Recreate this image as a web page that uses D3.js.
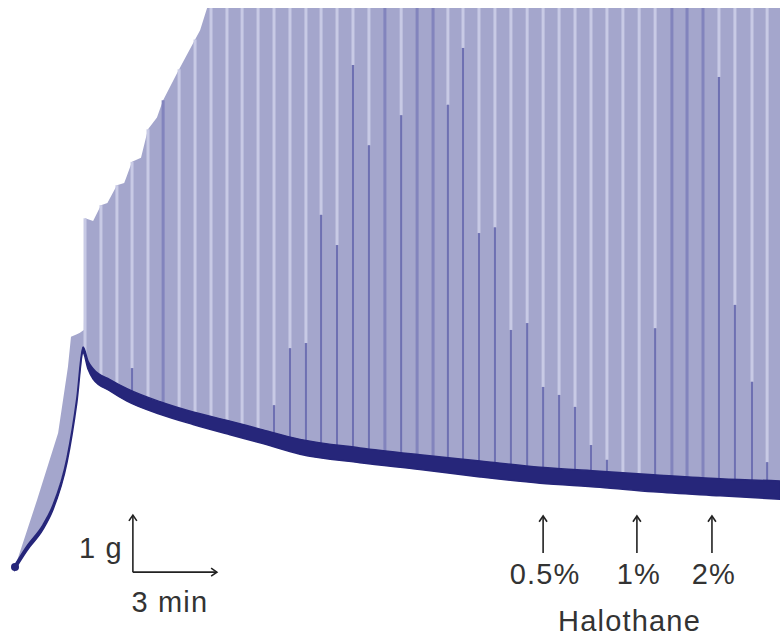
<!DOCTYPE html>
<html>
<head>
<meta charset="utf-8">
<script src="https://cdn.jsdelivr.net/npm/d3@7/dist/d3.min.js"></script>
<style>
    body { margin: 0; background: #fff; }
    svg { display: block; }
    text { font-family: "Liberation Sans", Arial, sans-serif; fill: #333; }
</style>
</head>
<body>
<div id="container"></div>
<script>
    // Data: baseline tension trace (time in min, force in g)
    let traceTime  = [0, 0.43, 1.0, 1.36, 1.86, 2.21, 2.43, 2.61, 2.79, 3.39, 4.0, 5.18, 6.36, 7.68, 8.75, 10.18, 12.32, 14.46, 16.61, 18.75, 20.89, 22.79, 25.18, 27.32];
    let traceForce = [0, 0.33, 0.70, 1.05, 1.88, 2.93, 3.81, 3.54, 3.39, 3.19, 3.02, 2.79, 2.61, 2.44, 2.30, 2.11, 1.96, 1.84, 1.72, 1.61, 1.54, 1.47, 1.40, 1.35];
    // noise half-width of the trace (g)
    let traceSpread = [0.04, 0.04, 0.04, 0.04, 0.04, 0.04, 0.05, 0.07, 0.09, 0.1, 0.11, 0.11, 0.11, 0.12, 0.12, 0.13, 0.13, 0.13, 0.14, 0.14, 0.14, 0.15, 0.15, 0.16];

    // Data: upper envelope of the twitch responses
    let envTime  = [0, 0.79, 1.54, 1.89, 2.0, 2.32, 2.46, 2.50, 2.79, 3.07, 3.3, 3.64, 3.9, 4.18, 4.5, 4.75, 5.07, 5.29, 5.79, 6.61, 6.86, 27.32];
    let envForce = [0, 1.18, 2.35, 3.51, 4.04, 4.11, 4.16, 6.12, 6.07, 6.35, 6.39, 6.70, 6.74, 7.11, 7.18, 7.68, 7.89, 8.19, 8.67, 9.42, 9.81, 9.81];

    // Data: single twitches, time (min) and force where the pale part ends (g)
    // 0 = pale to the baseline, 10 = dark over the full height
    let twitchTime = [2.50, 3.07, 3.64, 4.18, 4.75, 5.29, 5.86, 6.43, 7.00, 7.57, 8.11, 8.68,
        9.25, 9.82, 10.39, 10.93, 11.50, 12.07, 12.64, 13.21, 13.79, 14.36, 14.93, 15.46,
        16.00, 16.57, 17.14, 17.71, 18.29, 18.86, 19.43, 20.00, 20.57, 21.14, 21.71, 22.29,
        22.86, 23.46, 24.00, 24.57, 25.14, 25.71, 26.32, 26.86];
    let twitchBreak = [0, 0, 0, 3.49, 0, 10, 0, 0, 0, 0, 0, 0,
        2.84, 3.84, 3.93, 6.18, 5.65, 8.81, 7.40, 10, 7.93, 10, 10, 8.11,
        9.11, 5.86, 5.96, 4.16, 4.28, 3.16, 3.02, 2.81, 2.14, 1.88, 0, 0,
        4.19, 10, 10, 10, 8.60, 4.60, 3.25, 1.84];

    // Data: halothane additions
    let doseTime = [18.86, 22.21, 24.89];
    let doseLabel = ["0.5%", "1%", "2%"];

    // Scale bar
    let barOrigin = { t: 4.21, g: -0.09 };
    let barTime = 3, barForce = 1;

    // Set up SVG
    let width = 780, height = 639;
    let svg = d3.select("#container")
        .append("svg")
        .attr("width", width)
        .attr("height", height);

    let x = d3.scaleLinear().domain([0, 27.32]).range([15, 780]);
    let y = d3.scaleLinear().domain([0, 9.81]).range([567, 8]);

    let lerp = (ts, vs) => t => {
        let i = d3.bisectRight(ts, t);
        if (i <= 0) return vs[0];
        if (i >= ts.length) return vs[vs.length - 1];
        let k = (t - ts[i - 1]) / (ts[i] - ts[i - 1]);
        return vs[i - 1] + k * (vs[i] - vs[i - 1]);
    };
    let base = lerp(traceTime, traceForce);
    let env = lerp(envTime, envForce);

    svg.append("clipPath").attr("id", "clip")
        .append("rect").attr("x", 0).attr("y", y(9.81)).attr("width", width).attr("height", height);

    let g = svg.append("g").attr("clip-path", "url(#clip)");

    // Twitch fill
    let fillTimes = Array.from(new Set(envTime.concat(traceTime))).sort((a, b) => a - b);
    g.append("path")
        .datum(fillTimes)
        .attr("fill", "#a4a6cc")
        .attr("d", d3.area()
            .x(t => x(t))
            .y0(t => y(base(t)))
            .y1(t => y(Math.max(env(t), base(t)))));

    // Twitch stripes
    let twitches = twitchTime.map((t, i) => ({ t, brk: twitchBreak[i], lo: base(t), hi: env(t) }));

    g.selectAll(".pale")
        .data(twitches.filter(d => d.brk < d.hi))
        .enter()
        .append("line")
        .attr("x1", d => x(d.t)).attr("x2", d => x(d.t))
        .attr("y1", d => y(Math.max(d.brk, d.lo)))
        .attr("y2", d => y(d.hi))
        .attr("stroke", "#c8cae5")
        .attr("stroke-width", 3);

    g.selectAll(".dark")
        .data(twitches.filter(d => d.brk > d.lo))
        .enter()
        .append("line")
        .attr("x1", d => x(d.t)).attr("x2", d => x(d.t))
        .attr("y1", d => y(d.lo))
        .attr("y2", d => y(Math.min(d.brk, d.hi)))
        .attr("stroke", d => d.brk >= d.hi ? "#8284bd" : "#6e70b2")
        .attr("stroke-width", d => d.brk >= d.hi ? 3 : 2);

    // Baseline trace
    let trace = traceTime.map((t, i) => ({ t, f: traceForce[i], s: traceSpread[i] }));
    g.append("path")
        .datum(trace)
        .attr("fill", "#26267a")
        .attr("stroke", "#26267a")
        .attr("stroke-width", 1.5)
        .attr("d", d3.area().curve(d3.curveMonotoneX)
            .x(d => x(d.t))
            .y0(d => y(d.f - d.s))
            .y1(d => y(d.f + d.s)));

    g.append("circle")
        .attr("cx", x(traceTime[0]))
        .attr("cy", y(traceForce[0]))
        .attr("r", 4)
        .attr("fill", "#26267a");

    // Arrow helper
    let ink = "#222";
    function arrow(x1, y1, x2, y2) {
        let a = Math.atan2(y2 - y1, x2 - x1), L = 7, w = 0.6;
        svg.append("line")
            .attr("x1", x1).attr("y1", y1).attr("x2", x2).attr("y2", y2)
            .attr("stroke", ink).attr("stroke-width", 1.6);
        svg.append("path")
            .attr("d", `M${x2 - L * Math.cos(a - w)},${y2 - L * Math.sin(a - w)}L${x2},${y2}L${x2 - L * Math.cos(a + w)},${y2 - L * Math.sin(a + w)}`)
            .attr("fill", "none").attr("stroke", ink).attr("stroke-width", 1.6);
    }

    let label = (tx, ty, s) => svg.append("text")
        .attr("x", tx).attr("y", ty)
        .attr("text-anchor", "middle")
        .attr("font-size", 29)
        .attr("letter-spacing", 1.2)
        .text(s);

    // Scale bar
    let ox = x(barOrigin.t), oy = y(barOrigin.g);
    arrow(ox, oy, ox, oy - (y(0) - y(barForce)));
    arrow(ox, oy, ox + (x(barTime) - x(0)), oy);

    label(ox - 32, oy - 14, barForce + " g");
    label(ox + (x(barTime) - x(0)) / 2 - 5, oy + 40, barTime + " min");

    // Halothane markers
    doseTime.forEach((t, i) => {
        arrow(x(t), 553, x(t), 516);
        label(x(t) + 2, 584, doseLabel[i]);
    });

    label((x(doseTime[0]) + x(doseTime[2])) / 2 + 2, 631, "Halothane");
</script>
</body>
</html>
